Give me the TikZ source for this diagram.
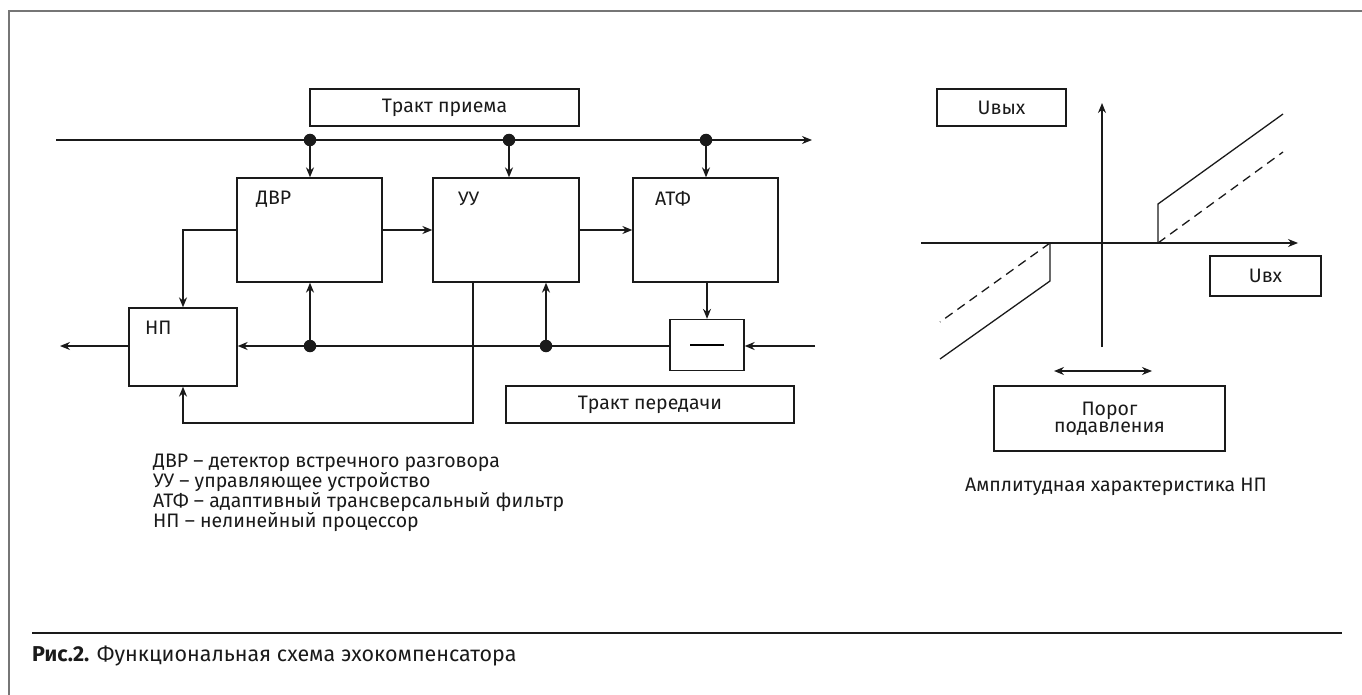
\documentclass[tikz,border=0pt]{standalone}
\usepackage{fontspec}
\setmainfont{Fira Sans}
\usetikzlibrary{arrows.meta,calc}
\definecolor{ink}{HTML}{1A1A1A}
\definecolor{framegray}{HTML}{767676}
\tikzset{
  box/.style={draw=ink,line width=1.3pt,minimum width=#1,inner sep=0pt},
  lbl/.style={font=\fontsize{19.5}{20}\selectfont,text=ink,inner sep=0pt},
  wire/.style={draw=ink,line width=1.3pt},
  arr/.style={wire,-{Stealth[length=10pt,width=8pt]}},
  darr/.style={wire,{Stealth[length=10pt,width=8pt]}-{Stealth[length=10pt,width=8pt]}},
  dot/.style={circle,fill=ink,inner sep=0pt,minimum size=12.5pt},
}
\begin{document}
\begin{tikzpicture}[x=1pt,y=-1pt]
\useasboundingbox (0,0) rectangle (1362,695);
% frame
\draw[framegray,line width=1.5pt] (9,695) -- (9,11) -- (1362,11);
\draw[ink,line width=1.3pt] (32,633) -- (1342,633);
\node[lbl,anchor=west,font=\fontsize{21.5}{24}\selectfont] (cap) at (32,656) {\textbf{Рис.2.} Функциональная схема эхокомпенсатора};

% blocks
\node[box=145pt,minimum height=104pt] (dvr) at (309.5,230) {};
\node[box=146pt,minimum height=104pt] (uu) at (506,230) {};
\node[box=145pt,minimum height=104pt] (atf) at (705.5,230) {};
\node[box=108pt,minimum height=78pt] (np) at (183,347) {};
\node[box=74pt,minimum height=51pt] (mn) at (707,345) {\rule{34pt}{2.4pt}};
\node[box=269pt,minimum height=37pt,lbl] (priem) at (444.5,107.5) {Тракт приема};
\node[box=288pt,minimum height=37pt,lbl] (pered) at (650,404.5) {Тракт передачи};

\node[lbl,anchor=west] (tdvr) at (256,199) {ДВР};
\node[lbl,anchor=west] (tuu) at (458,199) {УУ};
\node[lbl,anchor=west] (tatf) at (655,199) {АТФ};
\node[lbl,anchor=west] (tnp) at (145,328) {НП};

% receive path
\coordinate (rin) at (56,140);
\coordinate (rout) at (812,140);
\node[dot] (d1) at (310,140) {};
\node[dot] (d2) at (509,140) {};
\node[dot] (d3) at (706,140) {};
\draw[arr] (rin) -- (rout);
\draw[arr] (d1) -- (d1 |- dvr.north);
\draw[arr] (d2) -- (d2 |- uu.north);
\draw[arr] (d3) -- (d3 |- atf.north);
\draw[arr] (dvr.east) -- (uu.west);
\draw[arr] (uu.east) -- (atf.west);
\draw[arr] (dvr.west) -| (np.north);
\draw[arr] (atf.south -| mn.north) -- (mn.north);

% transmit path
\coordinate (tin) at (815,346);
\coordinate (tout) at (60,346);
\node[dot] (b1) at (310,346) {};
\node[dot] (b2) at (546,346) {};
\draw[arr] (tin) -- (mn.east |- tin);
\draw[arr] (mn.west |- tin) -- (np.east |- tin);
\draw[arr] (np.west |- tin) -- (tout);
\draw[arr] (b1) -- (b1 |- dvr.south);
\draw[arr] (b2) -- (b2 |- uu.south);
\coordinate (c1) at (473,423);
\draw[arr] (uu.south -| c1) -- (c1) -| (np.south);

% legend
\node[lbl,anchor=north west,align=left,font=\fontsize{19.5}{20}\selectfont] (leg) at (153,454)
{ДВР – детектор встречного разговора\\УУ – управляющее устройство\\АТФ – адаптивный трансверсальный фильтр\\НП – нелинейный процессор};

% characteristic
\coordinate (xa0) at (921,243);
\coordinate (xa1) at (1298,243);
\coordinate (ya0) at (1102,347);
\coordinate (ya1) at (1102,103);
\draw[arr] (xa0) -- (xa1);
\draw[arr] (ya0) -- (ya1);
\coordinate (rp) at (1158,243);
\coordinate (lp) at (1050,243);
\draw[wire] (rp) -- (1158,204) -- (1283,114);
\draw[wire,dash pattern=on 9pt off 6pt] (rp) -- (1283,152);
\draw[wire] (lp) -- (1050,281) -- (940,359);
\draw[wire,dash pattern=on 9pt off 6pt] (lp) -- (940,322);
\coordinate (h0) at (1054,371);
\coordinate (h1) at (1152,371);
\draw[darr] (h0) -- (h1);

\node[box=129pt,minimum height=37pt,lbl] (uout) at (1001.5,107.5) {Uвых};
\node[box=111pt,minimum height=40pt,lbl] (uin) at (1265.5,276) {Uвх};
\node[box=231pt,minimum height=65pt,lbl,align=center,font=\fontsize{19.5}{17}\selectfont] (thr) at (1109.5,418.5) {Порог\\подавления};
\node[lbl] (amp) at (1116,487) {Амплитудная характеристика НП};
\end{tikzpicture}
\end{document}
